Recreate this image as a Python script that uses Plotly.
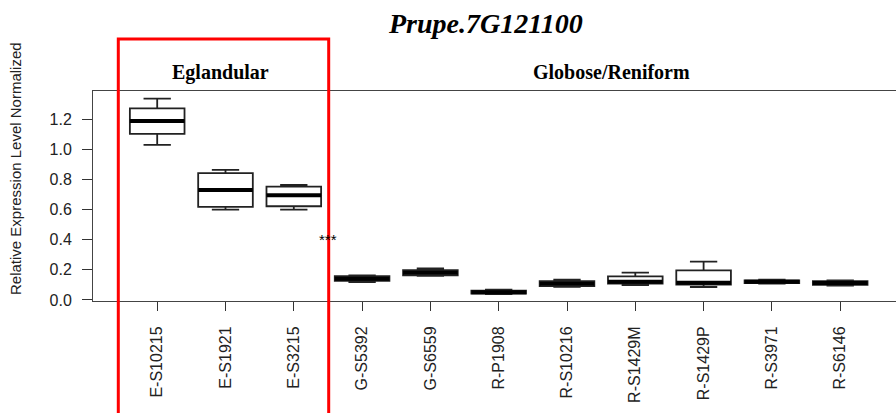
import plotly.graph_objects as go

categories = ["E-S10215", "E-S1921", "E-S3215", "G-S5392", "G-S6559", "R-P1908",
              "R-S10216", "R-S1429M", "R-S1429P", "R-S3971", "R-S6146"]
lower_whisker = [1.030, 0.600, 0.600, 0.118, 0.160, 0.039, 0.087, 0.099, 0.086, 0.108, 0.096]
q1_values     = [1.102, 0.618, 0.622, 0.126, 0.164, 0.042, 0.092, 0.108, 0.102, 0.111, 0.100]
median_values = [1.188, 0.730, 0.695, 0.140, 0.180, 0.051, 0.107, 0.120, 0.114, 0.121, 0.113]
q3_values     = [1.272, 0.842, 0.752, 0.158, 0.197, 0.062, 0.125, 0.157, 0.196, 0.130, 0.125]
upper_whisker = [1.336, 0.864, 0.763, 0.163, 0.210, 0.069, 0.134, 0.181, 0.254, 0.134, 0.130]
y_ticks = [0.0, 0.2, 0.4, 0.6, 0.8, 1.0, 1.2]
title_text = "Prupe.7G121100"
group_labels = ["Eglandular", "Globose/Reniform"]
y_title = "Relative Expression Level Normalized"
signif_text = "***"
signif_y = 0.40

xpos = list(range(1, len(categories) + 1))
BOXW = 0.8

fig = go.Figure()
fig.add_trace(go.Box(
    x=xpos, q1=q1_values, median=median_values, q3=q3_values,
    lowerfence=lower_whisker, upperfence=upper_whisker,
    width=BOXW, whiskerwidth=0.5, fillcolor="white",
    line=dict(color="#222222", width=1.8), boxpoints=False,
    showlegend=False, hoverinfo="skip",
))

# thick median lines (R style)
for xi, m in zip(xpos, median_values):
    fig.add_shape(type="line", xref="x", yref="y",
                  x0=xi - BOXW / 2, x1=xi + BOXW / 2, y0=m, y1=m,
                  line=dict(color="black", width=4))

L, T, B, W, H = 93, 91, 112, 896, 413
pw = W - L
ph = H - T - B
px_per_cat = 68.3

def px(xp):
    return (xp - L) / pw

def py(yp):
    return (H - B - yp) / ph

SANS = "Liberation Sans, Arial"
SERIF = "Liberation Serif, Times New Roman"

fig.update_layout(
    width=W, height=H, autosize=False,
    margin=dict(l=L, r=0, t=T, b=B, pad=0),
    plot_bgcolor="white", paper_bgcolor="white",
    font=dict(family=SANS, color="#222222", size=16),
    xaxis=dict(range=[0.06, 0.06 + pw / px_per_cat], tickvals=xpos, ticktext=categories,
               tickangle=-90, ticks="outside", ticklen=9, tickcolor="#333",
               showline=True, linecolor="#444", linewidth=1, mirror=True,
               showgrid=False, zeroline=False, ticklabelstandoff=9, automargin=False,
               tickfont=dict(size=16, family=SANS, color="#222")),
    yaxis=dict(range=[-0.007, 1.387], tickvals=y_ticks, tickformat=".1f",
               ticks="outside", ticklen=10, tickcolor="#333",
               showline=True, linecolor="#444", linewidth=1, mirror=False,
               showgrid=False, zeroline=False, ticklabelstandoff=7, automargin=False,
               tickfont=dict(size=16, family=SANS, color="#222")),
)

fig.add_annotation(text=title_text, xref="paper", yref="paper", x=px(485), y=py(23),
                   showarrow=False, xanchor="center", yanchor="middle",
                   font=dict(family=SERIF, size=28, color="black", weight="bold", style="italic"))
fig.add_annotation(text=group_labels[0], xref="paper", yref="paper", x=px(220), y=py(72),
                   showarrow=False, xanchor="center", yanchor="middle",
                   font=dict(family=SERIF, size=20, color="black", weight="bold"))
fig.add_annotation(text=group_labels[1], xref="paper", yref="paper", x=px(611), y=py(72),
                   showarrow=False, xanchor="center", yanchor="middle",
                   font=dict(family=SERIF, size=20, color="black", weight="bold"))
fig.add_annotation(text=y_title, xref="paper", yref="paper", x=px(15), y=py(169),
                   textangle=-90, showarrow=False, xanchor="center", yanchor="middle",
                   font=dict(family=SANS, size=15, color="#222"))
fig.add_annotation(text=signif_text, xref="x", yref="y", x=3.5, y=signif_y,
                   showarrow=False, xanchor="center", yanchor="middle",
                   font=dict(family=SANS, size=15, color="black"))

# red highlight rectangle
fig.add_shape(type="rect", xref="paper", yref="paper",
              x0=px(118.3), x1=px(328.7), y0=py(430), y1=py(39),
              line=dict(color="#ff0000", width=3), fillcolor="rgba(0,0,0,0)", layer="above")

fig.write_html("out.html", post_script="document.body.style.margin='0';",
               config={"displayModeBar": False})
